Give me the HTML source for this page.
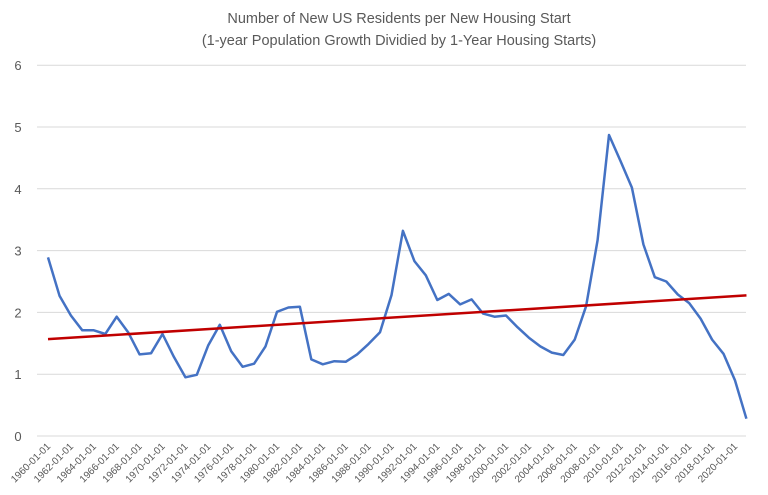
<!DOCTYPE html>
<html><head><meta charset="utf-8"><style>
body{margin:0;background:#fff;font-family:"Liberation Sans",sans-serif}
svg{display:block}
</style></head><body>
<svg id="chart" width="768" height="495" viewBox="0 0 768 495" xmlns="http://www.w3.org/2000/svg">
<text x="399" y="23" text-anchor="middle" font-size="14.5" fill="#595959">Number of New US Residents per New Housing Start</text>
<text x="399" y="45" text-anchor="middle" font-size="14.5" fill="#595959">(1-year Population Growth Dividied by 1-Year Housing Starts)</text>
<g id="grid"></g><g id="yticks"></g><g id="xticks"></g><g id="series"></g>
</svg>
<script>
const years = [];
for (let y = 1960; y <= 2021; y++) years.push(y);
const values = [2.89,2.27,1.95,1.71,1.71,1.65,1.93,1.68,1.32,1.34,1.65,1.28,0.95,0.99,1.47,1.80,1.37,1.12,1.17,1.45,2.01,2.08,2.09,1.24,1.16,1.21,1.20,1.32,1.49,1.68,2.28,3.32,2.83,2.60,2.20,2.30,2.13,2.21,1.98,1.93,1.95,1.76,1.59,1.45,1.35,1.31,1.56,2.10,3.17,4.87,4.45,4.02,3.10,2.57,2.50,2.29,2.15,1.90,1.56,1.33,0.90,0.28];
const yTicks = [0,1,2,3,4,5,6];
const NS = "http://www.w3.org/2000/svg";
const xScale = i => 48 + i * 11.45;
const yScale = v => 436 - v * 61.8;
function mk(tag, attrs, parent) {
  const e = document.createElementNS(NS, tag);
  for (const k in attrs) e.setAttribute(k, attrs[k]);
  parent.appendChild(e);
  return e;
}
const grid = document.getElementById('grid'), yt = document.getElementById('yticks'),
      xt = document.getElementById('xticks'), ser = document.getElementById('series');
yTicks.forEach(t => {
  const l = mk('line', {x1: 37, x2: 746, y1: yScale(t), y2: yScale(t), stroke: '#d9d9d9', 'stroke-width': 1}, grid);
  
  
  const tx = mk('text', {x: 18, y: yScale(t) + 5, 'text-anchor': 'middle', 'font-size': 13, fill: '#595959'}, yt);
  tx.textContent = t;
  
  
});
years.forEach((y, i) => {
  if (y % 2 !== 0) return;
  const x = xScale(i) + 3, yy = 447;
  const tx = mk('text', {x: x, y: yy, 'text-anchor': 'end', 'font-size': 10, fill: '#595959', transform: `rotate(-45 ${x} ${yy})`}, xt);
  tx.textContent = y + '-01-01';
  
  
});
const pts = values.map((v, i) => xScale(i).toFixed(1) + ',' + yScale(v).toFixed(1)).join(' ');
const line = mk('polyline', {points: pts, fill: 'none', stroke: '#4472c4', 'stroke-width': 2.5, 'stroke-linejoin': 'round'}, ser);


// linear trendline
const n = values.length;
let sx = 0, sy = 0, sxy = 0, sxx = 0;
values.forEach((v, i) => { sx += i; sy += v; sxy += i * v; sxx += i * i; });
const slope = (n * sxy - sx * sy) / (n * sxx - sx * sx);
const icpt = (sy - slope * sx) / n;
const tl = mk('line', {x1: xScale(0), y1: yScale(icpt), x2: xScale(n - 1), y2: yScale(icpt + slope * (n - 1)), stroke: '#c00000', 'stroke-width': 2.5}, ser);


</script>
</body></html>
